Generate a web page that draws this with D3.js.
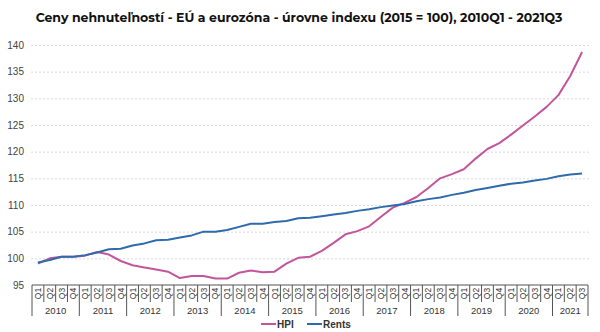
<!DOCTYPE html>
<html>
<head>
<meta charset="utf-8">
<script src="https://cdn.jsdelivr.net/npm/d3@7"></script>
<style>
  body { margin: 0; background: #fff; }
  svg { display: block; font-family: "Liberation Sans", Arial, sans-serif; }
</style>
</head>
<body>
<div id="chart"></div>
<script>
const years = [2010, 2011, 2012, 2013, 2014, 2015, 2016, 2017, 2018, 2019, 2020, 2021];
const quartersPerYear = [4, 4, 4, 4, 4, 4, 4, 4, 4, 4, 4, 3];
const quarterNames = ['Q1', 'Q2', 'Q3', 'Q4'];
const yTicks = [95, 100, 105, 110, 115, 120, 125, 130, 135, 140];

const hpi = [99.0, 100.0, 100.3, 100.3, 100.5, 101.2, 100.7, 99.5, 98.7, 98.3, 97.9, 97.5,
  96.3, 96.7, 96.7, 96.2, 96.2, 97.3, 97.7, 97.4, 97.5, 99.0, 100.1, 100.3,
  101.4, 102.9, 104.5, 105.1, 106.0, 107.8, 109.5, 110.4, 111.5, 113.2, 115.0, 115.8,
  116.7, 118.7, 120.5, 121.6, 123.2, 124.9, 126.6, 128.4, 130.6, 134.2, 138.7];
const rents = [99.2, 99.7, 100.3, 100.3, 100.6, 101.1, 101.7, 101.8, 102.4, 102.8, 103.4, 103.5,
  103.9, 104.3, 105.0, 105.0, 105.3, 105.9, 106.5, 106.5, 106.8, 107.0, 107.5, 107.6,
  107.9, 108.2, 108.5, 108.9, 109.2, 109.6, 109.9, 110.2, 110.7, 111.1, 111.4, 111.9,
  112.3, 112.8, 113.2, 113.6, 114.0, 114.2, 114.6, 114.9, 115.4, 115.7, 115.9];

const seriesNames = ['HPI', 'Rents'];
const seriesColors = ['#c2559b', '#2f6aab'];

const width = 600, height = 332;
const margin = {top: 45, right: 12, bottom: 47, left: 32};

// category keys like "2010-Q1"
const cats = [];
years.forEach((y, i) => {
  for (let q = 0; q < quartersPerYear[i]; q++) cats.push({year: y, q: quarterNames[q], key: y + '-' + quarterNames[q]});
});

const svg = d3.select('#chart').append('svg')
  .attr('width', width).attr('height', height);

svg.append('text')
  .attr('x', 299).attr('y', 22)
  .attr('text-anchor', 'middle')
  .attr('font-family', 'Montserrat, "Open Sans", sans-serif')
  .attr('font-weight', 'bold')
  .attr('font-size', 12.5)
  .attr('fill', '#111')
  .text('Ceny nehnuteľností - EÚ a eurozóna - úrovne indexu (2015 = 100), 2010Q1 - 2021Q3');

const x = d3.scaleBand().domain(cats.map(d => d.key))
  .range([margin.left, width - margin.right]).padding(0);
const y = d3.scaleLinear().domain([95, 140]).range([height - margin.bottom, margin.top]);

// y axis + grid
const yAxisG = svg.append('g').attr('transform', `translate(${margin.left - 1},0)`)
  .call(d3.axisLeft(y).tickValues(yTicks).tickSize(-(width - margin.right - margin.left + 3)).tickPadding(7));
yAxisG.select('.domain').remove();
yAxisG.selectAll('.tick line')
  .attr('stroke', '#d9d9d9').attr('stroke-dasharray', '2,2')
  .filter(d => d === 95).remove();
yAxisG.selectAll('.tick text').attr('font-size', 10).attr('fill', '#444')
  .attr('font-family', '"Liberation Sans", Arial, sans-serif');

// x axis: quarter labels and year groups
const base = y(95);
const xAxisG = svg.append('g');
xAxisG.append('line')
  .attr('x1', margin.left).attr('x2', width - margin.right)
  .attr('y1', base).attr('y2', base)
  .attr('stroke', '#555');

xAxisG.selectAll('.qsep').data(cats).join('line')
  .attr('x1', d => x(d.key)).attr('x2', d => x(d.key))
  .attr('y1', base).attr('y2', d => d.q === 'Q1' ? base + 31 : base + 17)
  .attr('stroke', '#555');
xAxisG.append('line')
  .attr('x1', width - margin.right).attr('x2', width - margin.right)
  .attr('y1', base).attr('y2', base + 31).attr('stroke', '#555');

xAxisG.selectAll('.qlab').data(cats).join('text')
  .attr('transform', d => `translate(${x(d.key) + x.bandwidth() / 2 + 3},${base + 8.5}) rotate(-90)`)
  .attr('text-anchor', 'middle')
  .attr('font-size', 8.5)
  .attr('fill', '#333')
  .text(d => d.q);

const yearGroups = years.map((yr, i) => {
  const ks = cats.filter(c => c.year === yr).map(c => c.key);
  return {year: yr, x0: x(ks[0]), x1: x(ks[ks.length - 1]) + x.bandwidth()};
});
xAxisG.selectAll('.ylab').data(yearGroups).join('text')
  .attr('x', d => (d.x0 + d.x1) / 2).attr('y', base + 29)
  .attr('text-anchor', 'middle')
  .attr('font-size', 9.5)
  .attr('fill', '#333')
  .text(d => d.year);

// lines
const line = d3.line()
  .x((v, i) => x(cats[i].key) + x.bandwidth() / 2)
  .y(v => y(v));
[hpi, rents].forEach((s, i) => {
  svg.append('path').datum(s)
    .attr('fill', 'none')
    .attr('stroke', seriesColors[i])
    .attr('stroke-width', 2)
    .attr('stroke-linejoin', 'round')
    .attr('d', line);
});

// legend
const legend = svg.append('g').attr('transform', 'translate(261,324)');
const legendX = [0, 46];
seriesNames.forEach((n, i) => {
  const g = legend.append('g').attr('transform', `translate(${legendX[i]},0)`);
  g.append('line').attr('x1', 0).attr('x2', 15).attr('y1', 0).attr('y2', 0)
    .attr('stroke', seriesColors[i]).attr('stroke-width', 2);
  g.append('text').attr('x', 16).attr('y', 3.5)
    .attr('font-size', 10).attr('font-weight', 'bold').attr('fill', '#333')
    .text(n);
});
</script>
</body>
</html>
